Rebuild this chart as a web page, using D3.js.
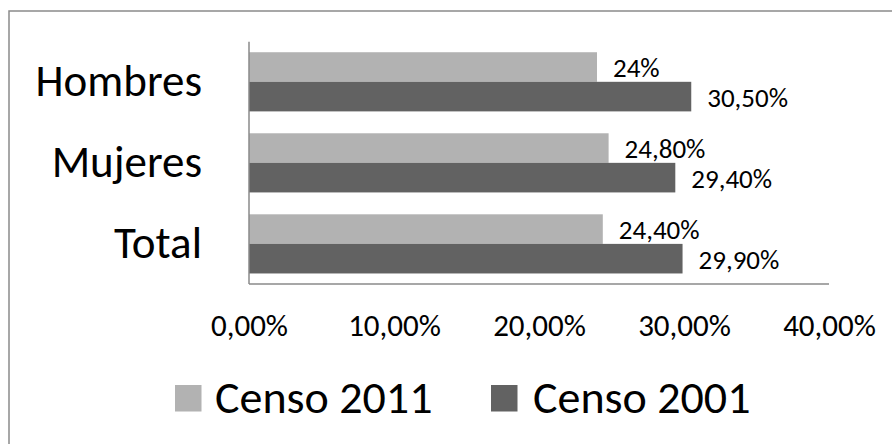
<!DOCTYPE html>
<html>
<head>
<meta charset="utf-8">
<script src="https://cdn.jsdelivr.net/npm/d3@7"></script>
<style>
html,body{margin:0;padding:0;background:#fff;}
svg{display:block;}
text{font-family:Carlito,Calibri,Lato,sans-serif;fill:#000;}
</style>
</head>
<body>
<svg id="chart" width="892" height="444"></svg>
<script>
const categories = ["Hombres", "Mujeres", "Total"];
const seriesNames = ["Censo 2011", "Censo 2001"];
const censo2011 = [0.24, 0.248, 0.244];
const censo2001 = [0.305, 0.294, 0.299];
const labels2011 = ["24%", "24,80%", "24,40%"];
const labels2001 = ["30,50%", "29,40%", "29,90%"];
const xTicks = [0, 0.1, 0.2, 0.3, 0.4];
const colors = ["#b2b2b2", "#626262"];

const svg = d3.select("#chart");
const W = 892, H = 444;

// outer frame (cut off at right and bottom)
svg.append("rect")
  .attr("x", 9).attr("y", 11)
  .attr("width", W + 10).attr("height", H + 10)
  .attr("fill", "none").attr("stroke", "#8a8a8a").attr("stroke-width", 1.5);

const pLeft = 249, pRight = 829, pTop = 41.7, pBottom = 284;

const x = d3.scaleLinear().domain([0, 0.4]).range([pLeft, pRight]);
const y = d3.scaleBand().domain(categories).range([pTop, pBottom])
  .paddingInner(0.27).paddingOuter(0.13);
const ySub = d3.scaleBand().domain(seriesNames).range([0, y.bandwidth()]);

const locale = d3.formatLocale({decimal: ",", thousands: ".", grouping: [3], currency: ["", "€"]});
const fmt = locale.format(".2%");

const series = [
  {name: seriesNames[0], values: censo2011, labels: labels2011, color: colors[0]},
  {name: seriesNames[1], values: censo2001, labels: labels2001, color: colors[1]}
];

// bars
series.forEach(s => {
  const g = svg.append("g");
  g.selectAll("rect").data(categories).enter().append("rect")
    .attr("x", x(0))
    .attr("y", c => y(c) + ySub(s.name))
    .attr("width", (c, i) => x(s.values[i]) - x(0))
    .attr("height", ySub.bandwidth())
    .attr("fill", s.color);
  g.selectAll("text").data(categories).enter().append("text")
    .attr("x", (c, i) => x(s.values[i]) + 16)
    .attr("y", c => y(c) + ySub(s.name) + ySub.bandwidth() / 2 + 10)
    .attr("font-size", 27)
    .text((c, i) => s.labels[i]);
});

// y axis line
svg.append("line")
  .attr("x1", pLeft).attr("x2", pLeft).attr("y1", pTop).attr("y2", pBottom)
  .attr("stroke", "#8a8a8a").attr("stroke-width", 1.5);
// x axis line
svg.append("line")
  .attr("x1", pLeft).attr("x2", pRight).attr("y1", pBottom).attr("y2", pBottom)
  .attr("stroke", "#8a8a8a").attr("stroke-width", 1.5);

// x axis tick labels
const xAxis = d3.axisBottom(x).tickValues(xTicks).tickFormat(fmt).tickSize(0).tickPadding(0);
const gx = svg.append("g").attr("transform", `translate(0,${pBottom})`).call(xAxis);
gx.select(".domain").remove();
gx.selectAll("text")
  .attr("font-size", 31)
  .attr("fill", "#000")
  .attr("dy", null)
  .attr("y", 51.7)
  .style("font-family", "Carlito,Calibri,Lato,sans-serif");

// y axis category labels
const yAxis = d3.axisLeft(y).tickSize(0).tickPadding(0);
const gy = svg.append("g").attr("transform", `translate(202,0)`).call(yAxis);
gy.select(".domain").remove();
gy.selectAll("text")
  .attr("font-size", 45)
  .attr("fill", "#000")
  .attr("dy", 14.5)
  .attr("x", 0)
  .style("font-family", "Carlito,Calibri,Lato,sans-serif");

// legend
const legendItems = [
  {name: seriesNames[0], color: colors[0], sx: 175, tx: 215},
  {name: seriesNames[1], color: colors[1], sx: 491, tx: 533}
];
const lg = svg.append("g");
legendItems.forEach(d => {
  lg.append("rect").attr("x", d.sx).attr("y", 385).attr("width", 26.5).attr("height", 26.5).attr("fill", d.color);
  lg.append("text").attr("x", d.tx).attr("y", 413.3).attr("font-size", 46).text(d.name);
});
</script>
</body>
</html>
